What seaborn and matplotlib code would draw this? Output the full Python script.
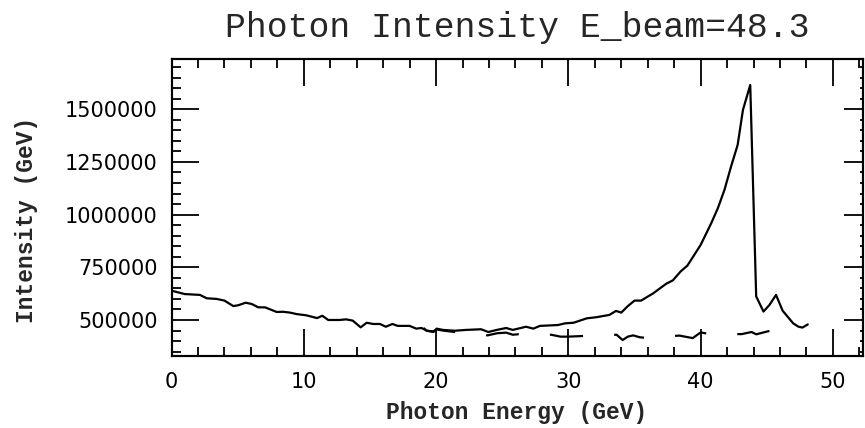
""" Plot photon intensity spectrum for E_beam = 48.3 GeV. """

import numpy as np
import pandas as pd
import seaborn as sns
import matplotlib.pyplot as plt
from matplotlib.ticker import MultipleLocator, StrMethodFormatter

# Main spectrum (energy in GeV, intensity in GeV)
energy = [0, 1.0, 2.15, 2.66, 3.4, 4.0, 4.67, 5.05, 5.6, 6.06, 6.56, 7.07,
          7.95, 8.45, 8.96, 9.46, 10.2, 11.0, 11.4, 11.85, 12.7, 13.2, 13.7,
          14.3, 14.75, 15.25, 15.76, 16.2, 16.7, 17.1, 18.0, 18.5, 18.9, 19.3,
          19.8, 20.05, 20.5, 21.4, 22.3, 23.4, 23.95, 24.6, 25.3, 25.8, 26.8,
          27.35, 27.85, 29.2, 29.75, 30.4, 31.4, 32.1, 33.1, 33.6, 34.0, 34.5,
          35.0, 35.5, 36.4, 37.4, 37.9, 38.5, 39.0, 40.0, 40.8, 41.3, 41.8,
          42.3, 42.8, 43.2, 43.75, 44.2, 44.75, 45.2, 45.7, 46.2, 47.0, 47.4,
          47.7, 48.1]
intensity = [639000, 623000, 619000, 603000, 600000, 592000, 566000, 570000,
             582000, 576000, 560000, 560000, 538000, 539000, 535000, 528000,
             522000, 509000, 520000, 500000, 500000, 503000, 497000, 465000,
             487000, 481000, 481000, 468000, 481000, 472000, 472000, 459000,
             462000, 449000, 443000, 459000, 453000, 449000, 453000, 456000,
             443000, 453000, 462000, 453000, 468000, 459000, 472000, 476000,
             484000, 487000, 508000, 513000, 524000, 543000, 535000, 566000,
             592000, 592000, 626000, 672000, 688000, 731000, 758000, 856000,
             959000, 1030000, 1117000, 1228000, 1331000, 1497000, 1615000,
             612000, 540000, 571000, 619000, 544000, 484000, 468000, 464000,
             479000]

# Second (dashed) spectrum, splits from the main one near 19 GeV
energy_2 = [19.05, 19.3, 19.8, 20.05, 20.5, 21.4, 23.9, 24.6, 25.3, 25.8,
            26.3, 28.7, 29.4, 30.0, 31.1, 33.65, 34.1, 34.5, 34.9, 35.4, 35.9,
            38.4, 39.4, 40.0, 40.7, 43.1, 43.85, 44.2, 45.5]
intensity_2 = [462000, 449000, 446000, 455000, 450000, 443000, 427000,
               437000, 440000, 430000, 433000, 430000, 421000, 421000, 424000,
               430000, 405000, 421000, 427000, 418000, 415000, 426000, 414000,
               441000, 433000, 433000, 443000, 432000, 453000]


def main() -> None:
    """ Main function. """

    sns.set_style("ticks")
    plt.rcParams["font.family"] = ["Liberation Mono", "DejaVu Sans"]

    df_main = pd.DataFrame({"E": energy, "I": intensity})
    df_dash = pd.DataFrame({"E": energy_2, "I": intensity_2})

    fig = plt.figure(figsize=(8.65, 4.28), dpi=100)
    ax = fig.add_axes([0.1983, 0.1689, 0.7990, 0.6921])

    sns.lineplot(data=df_main, x="E", y="I", color="black", lw=1.6,
                 estimator=None, sort=False, ax=ax)
    sns.lineplot(data=df_dash, x="E", y="I", color="black", lw=1.6,
                 estimator=None, sort=False, ax=ax,
                 linestyle=(0, (15, 14)))

    ax.set_xlim(0, 52.25)
    ax.set_ylim(330500, 1736000)

    # Ticks: major + minor, inward, on all four sides
    ax.xaxis.set_major_locator(MultipleLocator(10))
    ax.xaxis.set_minor_locator(MultipleLocator(2))
    ax.yaxis.set_major_locator(MultipleLocator(250000))
    ax.yaxis.set_minor_locator(MultipleLocator(50000))
    ax.yaxis.set_major_formatter(StrMethodFormatter("{x:.0f}"))
    ax.tick_params(which="both", direction="in", top=True, right=False,
                   width=1.3, colors="black")
    ax.tick_params(which="major", length=19.5)
    ax.tick_params(which="minor", length=6.5)
    ax.tick_params(axis="x", which="major", pad=12, labelsize=15)
    ax.tick_params(axis="y", which="major", pad=10, labelsize=15)
    for lab in ax.get_yticklabels() + ax.get_xticklabels():
        lab.set_family("DejaVu Sans")

    # Right axis has shorter ticks
    ax2 = ax.twinx()
    ax2.set_ylim(ax.get_ylim())
    ax2.yaxis.set_major_locator(MultipleLocator(250000))
    ax2.yaxis.set_minor_locator(MultipleLocator(50000))
    ax2.tick_params(which="both", direction="in", labelright=False,
                    width=1.3, colors="black")
    ax2.tick_params(which="major", length=14)
    ax2.tick_params(which="minor", length=2.5)

    for a in (ax, ax2):
        for s in a.spines.values():
            s.set_linewidth(1.5)
            s.set_color("black")

    ax.set_xlabel("Photon Energy (GeV)", fontsize=16.5, labelpad=6,
                  fontweight="bold")
    ax.set_ylabel("Intensity (GeV)", fontsize=16.5, fontweight="bold")
    ax.yaxis.set_label_coords(-0.193, 0.458)
    ax.set_title("Photon Intensity E_beam=48.3", fontsize=25, pad=16)

    fig.savefig("out.png", dpi=100)


if __name__ == "__main__":
    main()
